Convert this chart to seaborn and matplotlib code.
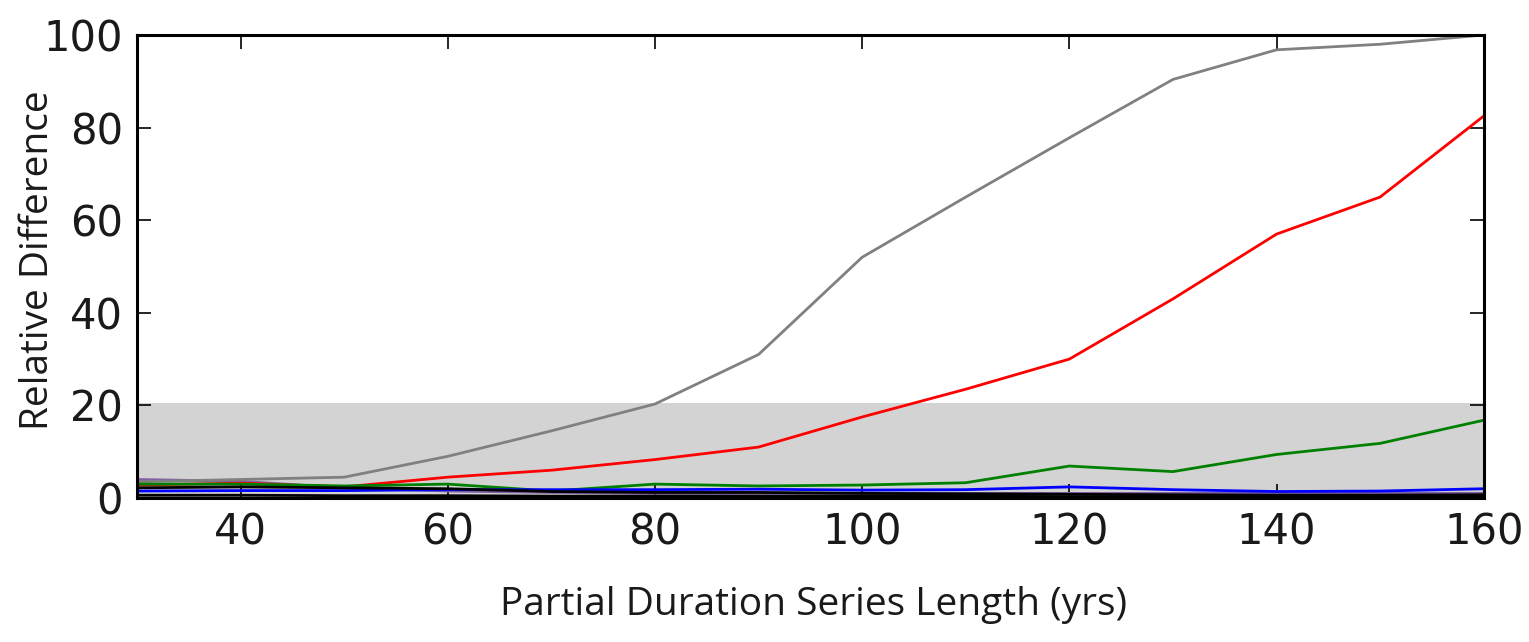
import pandas as pd
import matplotlib.pyplot as plt
import seaborn as sns

# series length (yrs)
lengths = [30, 40, 50, 60, 70, 80, 90, 100, 110, 120, 130, 140, 150, 160]

# relative difference per series
gray_vals = [3.5, 4.0, 4.5, 9.0, 14.5, 20.3, 31.0, 52.0, 65.0, 77.8, 90.4, 96.8, 98.0, 100.0]
red_vals = [2.8, 3.2, 2.4, 4.5, 6.0, 8.3, 11.0, 17.5, 23.5, 30.0, 43.0, 57.0, 65.0, 82.5]
green_vals = [3.0, 3.0, 2.6, 3.0, 1.5, 3.0, 2.6, 2.8, 3.3, 6.9, 5.7, 9.4, 11.8, 16.8]
blue_vals = [1.5, 1.6, 1.6, 1.8, 1.8, 1.8, 1.9, 1.7, 1.8, 2.4, 1.8, 1.4, 1.5, 2.0]
purple_vals = [4.0, 3.6, 2.2, 1.5, 1.2, 1.0, 1.0, 1.0, 1.0, 1.0, 1.0, 1.0, 1.0, 1.0]
black_vals = [2.2, 2.4, 2.2, 2.0, 1.4, 1.2, 1.2, 1.0, 0.9, 0.8, 0.7, 0.6, 0.6, 0.7]
black2_vals = [0.6, 0.6, 0.5, 0.5, 0.4, 0.4, 0.4, 0.4, 0.4, 0.3, 0.3, 0.3, 0.3, 0.3]

band_top = 20.5

series = {
    "purple": (purple_vals, "#8060a0"),
    "gray": (gray_vals, "gray"),
    "red": (red_vals, "red"),
    "green": (green_vals, "green"),
    "blue": (blue_vals, "blue"),
    "black": (black_vals, "black"),
    "black2": (black2_vals, "black"),
}

sns.set_style("ticks")
plt.rcParams["font.family"] = ["DejaVu Sans"]

fig = plt.figure(figsize=(15.29, 6.42), dpi=100)
ax = fig.add_axes([0.0896, 0.2243, 0.8808, 0.7212])

ax.axhspan(0, band_top, color="lightgray", zorder=0, lw=0)

for name, (vals, col) in series.items():
    df = pd.DataFrame({"len": lengths, "val": vals})
    sns.lineplot(data=df, x="len", y="val", color=col, lw=2.0, ax=ax)

ax.set_xlim(30, 160)
ax.set_ylim(0, 100)
ax.set_xticks([40, 60, 80, 100, 120, 140, 160])
ax.set_yticks([0, 20, 40, 60, 80, 100])
ax.tick_params(direction="in", length=10, width=1.2, top=True, right=True,
               labelsize=30, pad=10, color="black", labelcolor="#1a1a1a")
for s in ax.spines.values():
    s.set_linewidth(2.2)
    s.set_color("black")
    s.set_visible(True)

lab_font = ["Open Sans", "DejaVu Sans"]
ax.set_xlabel("Partial Duration Series Length (yrs)", family=lab_font, fontsize=28, color="#1a1a1a")
ax.set_ylabel("Relative Difference", family=lab_font, fontsize=28, color="#1a1a1a")
ax.xaxis.set_label_coords(0.502, -0.231)
ax.yaxis.set_label_coords(-0.0736, 0.514)
ax.xaxis.label.set_va("center")
ax.yaxis.label.set_va("center")

fig.savefig("out.png", dpi=100)
